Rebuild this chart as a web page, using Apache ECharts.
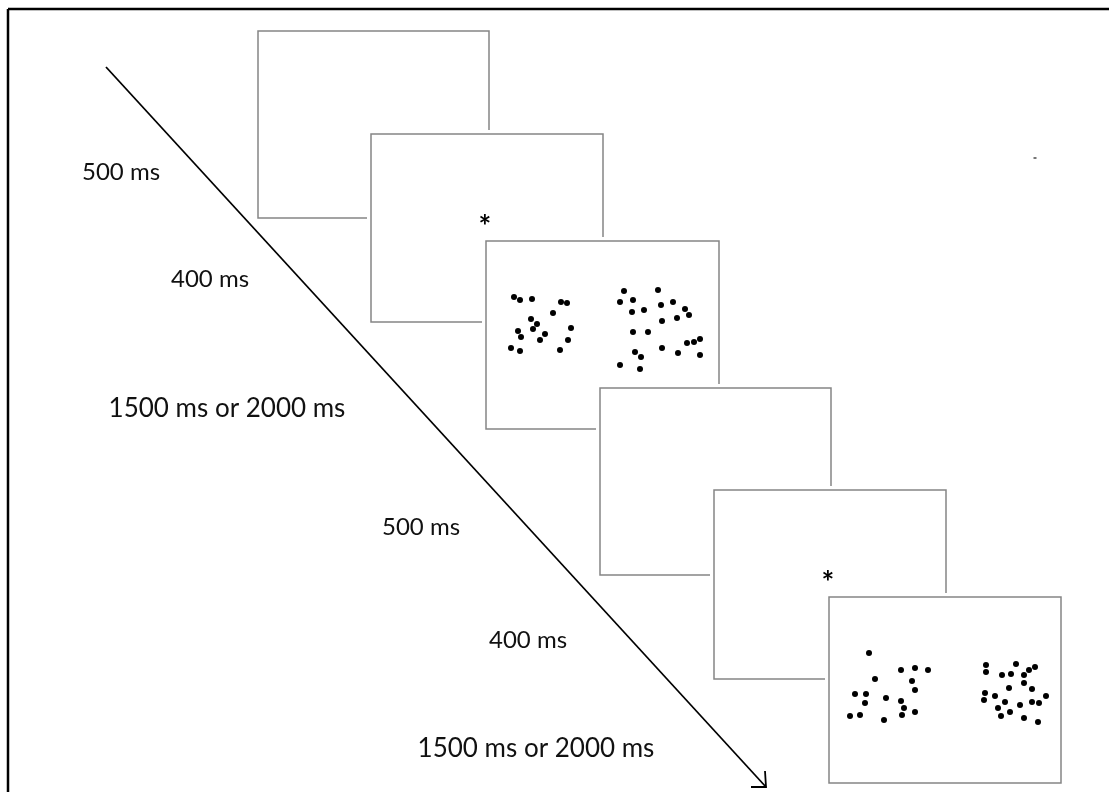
<!DOCTYPE html>
<html>
<head>
<meta charset="utf-8">
<script src="https://cdn.jsdelivr.net/npm/echarts@6/dist/echarts.min.js"></script>
<style>
html,body{margin:0;padding:0;background:#fff;overflow:hidden;}
#chart{width:1109px;height:792px;}
</style>
</head>
<body>
<div id="chart"></div>
<script>
// ---- data (diagram coordinates, px units of the 1109x792 canvas) ----
const boxes = [
  [258, 31, 489, 218],
  [371, 134, 603, 322],
  [486, 241, 719, 429],
  [600, 388, 831, 575],
  [714, 490, 946, 679],
  [829, 597, 1061, 783]
];
const dotsTrial1Left = [
  [514,297],[520,300],[532,299],[561,302],[567,303],[553,313],[531,319],[537,324],
  [518,331],[533,329],[545,334],[571,328],[521,337],[540,340],[568,340],[511,348],
  [520,351],[560,350]
];
const dotsTrial1Right = [
  [624,291],[658,290],[620,302],[633,300],[661,305],[673,302],[632,312],[644,310],
  [685,309],[689,315],[677,318],[662,321],[633,332],[648,332],[687,343],[694,342],
  [700,339],[662,348],[678,353],[635,352],[641,357],[700,355],[620,365],[640,369]
];
const dotsTrial2Left = [
  [869,653],[901,670],[915,668],[928,670],[875,679],[912,681],[915,690],[855,694],
  [866,694],[886,698],[901,701],[865,703],[904,708],[850,716],[860,715],[902,715],
  [915,712],[884,720]
];
const dotsTrial2Right = [
  [986,665],[1016,664],[986,672],[1035,667],[1029,670],[1002,675],[1011,674],[1024,675],
  [1024,683],[1009,688],[1032,689],[985,693],[995,696],[1046,696],[984,700],[1005,702],
  [1032,702],[1039,703],[1020,705],[998,708],[1010,712],[1001,716],[1024,718],[1038,722]
];
const fixations = [[485, 220], [828, 576]];
const timeline = [[106, 67], [766, 787]];
const arrowHead = [[765, 771], [766, 787], [751, 787]];
const frameLeft = [[8, 792], [8, 9]];
const frameTop = [[8, 9], [1109, 9]];
const durationLabels = ['500 ms', '400 ms', '1500 ms or 2000 ms', '500 ms', '400 ms', '1500 ms or 2000 ms'];
const labelX = [121, 210, 227, 421, 528, 536];
const labelY = [172, 279, 409, 527, 640, 749];
const labelSizes = [24, 24, 26, 24, 24, 26];
const strayMark = [[1035, 158]];

// ---- chart ----
const chart = echarts.init(document.getElementById('chart'), null, {renderer: 'canvas'});
const FONT = 'Lato, "Open Sans", sans-serif';

const allDots = [].concat(dotsTrial1Left, dotsTrial1Right, dotsTrial2Left, dotsTrial2Right);

function segSeries(data, width, color, z) {
  return {
    type: 'custom', z: z, data: [0], clip: false,
    renderItem: function (params, api) {
      const pts = data.map(function (p) { return api.coord(p); });
      return {
        type: 'polyline',
        shape: {points: pts},
        style: {stroke: color, lineWidth: width, fill: null}
      };
    }
  };
}

const option = {
  animation: false,
  backgroundColor: '#ffffff',
  grid: {left: 0, right: 0, top: 0, bottom: 0},
  xAxis: {type: 'value', min: 0, max: 1109, show: false},
  yAxis: {type: 'value', min: 0, max: 792, inverse: true, show: false},
  series: [
    segSeries(frameLeft, 2.5, '#000', 1),
    segSeries(frameTop, 2.5, '#000', 1),
    {
      type: 'custom', z: 2,
      data: boxes,
      renderItem: function (params, api) {
        const p0 = api.coord([api.value(0), api.value(1)]);
        const p1 = api.coord([api.value(2), api.value(3)]);
        const w = p1[0] - p0[0], h = p1[1] - p0[1];
        return {
          type: 'group',
          children: [
            {type: 'rect', z2: params.dataIndex * 2,
             shape: {x: p0[0] - 4, y: p0[1] - 4, width: w + 8, height: h + 8},
             style: {fill: '#fff', stroke: null}},
            {type: 'rect', z2: params.dataIndex * 2 + 1,
             shape: {x: p0[0], y: p0[1], width: w, height: h},
             style: {fill: '#fff', stroke: '#858585', lineWidth: 1.5}}
          ]
        };
      }
    },
    {
      type: 'scatter', z: 5, data: allDots, symbol: 'circle', symbolSize: 6,
      itemStyle: {color: '#000', opacity: 1}
    },
    {
      type: 'scatter', z: 5, data: strayMark, symbol: 'rect', symbolSize: [3, 2],
      itemStyle: {color: '#777', opacity: 1}
    },
    {
      type: 'scatter', z: 5, symbolSize: 0, itemStyle: {opacity: 1},
      data: fixations.map(function (p) { return {value: p, name: '*'}; }),
      label: {show: true, position: 'inside', formatter: '*', color: '#000',
              fontSize: 30, fontWeight: 'bold', fontFamily: FONT, offset: [0, 7]}
    },
    segSeries(timeline, 1.8, '#000', 4),
    segSeries(arrowHead, 1.8, '#000', 4),
    {
      type: 'scatter', z: 6, symbolSize: 0, itemStyle: {opacity: 1},
      data: durationLabels.map(function (t, i) {
        return {
          value: [labelX[i], labelY[i]],
          label: {fontSize: labelSizes[i]},
          name: t
        };
      }),
      label: {show: true, position: 'inside', formatter: '{b}', color: '#111',
              fontFamily: FONT}
    }
  ]
};
chart.setOption(option);
</script>
</body>
</html>
